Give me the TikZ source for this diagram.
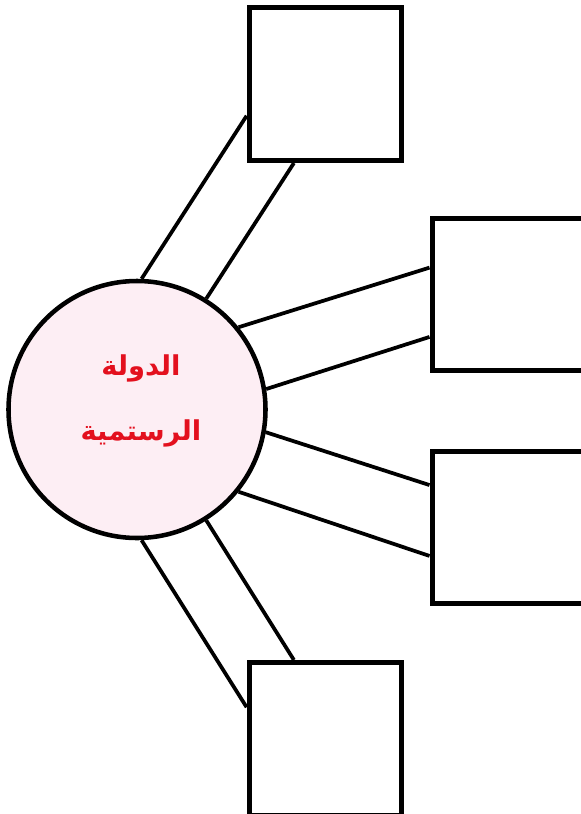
\documentclass[tikz,border=0pt]{standalone}
\usepackage{fontspec}
\usetikzlibrary{calc}
\TeXXeTstate=1
\newfontfamily\arabicfont[Script=Arabic]{DejaVu Sans}
\definecolor{cState}{HTML}{E3101E}
\definecolor{cPink}{HTML}{FDEEF4}

\begin{document}
\begin{tikzpicture}[x=0.75pt, y=-0.75pt,
  hub/.style={circle, draw, line width=3.4pt, fill=cPink, minimum size=192.75pt, inner sep=0pt},
  title/.style={font=\arabicfont\bfseries\fontsize{20.5}{24}\selectfont, text=cState, anchor=base, inner sep=0pt},
  slot/.style={draw, line width=3.75pt, fill=white, minimum width=114.4pt, minimum height=114.4pt, inner sep=0pt},
  link/.style={line width=2.8pt}]
  \useasboundingbox (0,0) rectangle (581,814);

  % central state
  \node[hub] (state) at (137,409.5) {};
  \node[title] (name1) at (141,375) {\beginR الدولة\endR};
  \node[title] (name2) at (141,440) {\beginR الرستمية\endR};

  % empty boxes
  \node[slot] (top)    at (325.4,84.25)  {};
  \node[slot] (right1) at (508.3,294.4)  {};
  \node[slot] (right2) at (508.3,527.6)  {};
  \node[slot] (bottom) at (325.4,738.75) {};

  % paired links
  \draw[link] (state.88)  -- ($(top.north west)!0.70!(top.south west)$);
  \draw[link] (state.58)  -- ($(top.south west)!0.30!(top.south east)$);
  \draw[link] (state.39)  -- ($(right1.north west)!0.33!(right1.south west)$);
  \draw[link] (state.9)   -- ($(right1.north west)!0.77!(right1.south west)$);
  \draw[link] (state.-10) -- ($(right2.north west)!0.23!(right2.south west)$);
  \draw[link] (state.-39) -- ($(right2.north west)!0.68!(right2.south west)$);
  \draw[link] (state.-58) -- ($(bottom.north west)!0.30!(bottom.north east)$);
  \draw[link] (state.-88) -- ($(bottom.north west)!0.30!(bottom.south west)$);
\end{tikzpicture}
\end{document}
